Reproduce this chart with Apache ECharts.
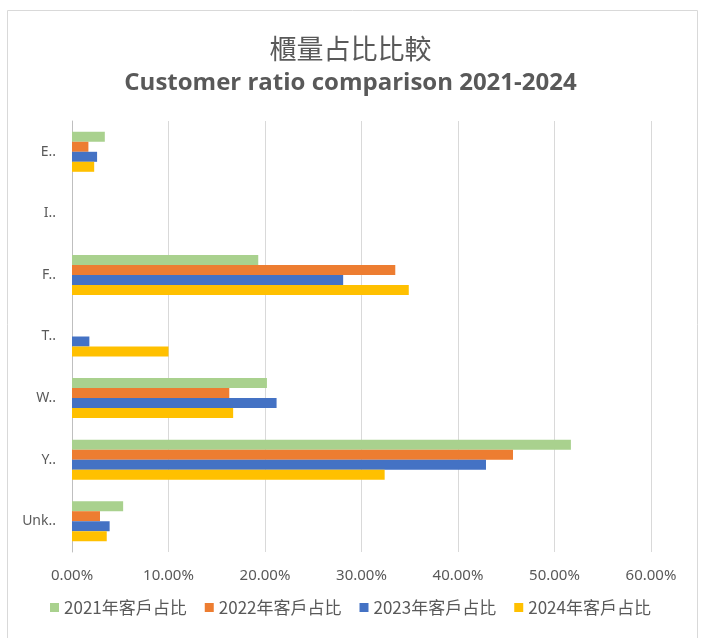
<!DOCTYPE html>
<html>
<head>
<meta charset="utf-8">
<script src="https://cdn.jsdelivr.net/npm/echarts@6/dist/echarts.min.js"></script>
<style>
	html, body { margin: 0; padding: 0; background: #fff; }
	#main { width: 701px; height: 638px; }
</style>
</head>
<body>
<div id="main"></div>
<script>
	// 類別 (上到下)
	var categories = ['E..', 'I..', 'F..', 'T..', 'W..', 'Y..', 'Unk..'];
	var seriesNames = ['2021年客戶占比', '2022年客戶占比', '2023年客戶占比', '2024年客戶占比'];
	// 各年度占比 (%)
	var ratio2021 = [3.4, 0, 19.3, 0, 20.2, 51.7, 5.3];
	var ratio2022 = [1.7, 0, 33.5, 0, 16.3, 45.7, 2.9];
	var ratio2023 = [2.6, 0, 28.1, 1.8, 21.2, 42.9, 3.9];
	var ratio2024 = [2.3, 0, 34.9, 10.0, 16.7, 32.4, 3.6];
	var xTicks = [0, 10, 20, 30, 40, 50, 60];

	var chart = echarts.init(document.getElementById('main'));
	var allData = [ratio2021, ratio2022, ratio2023, ratio2024];
	var option = {
		color: ['#A9D18E', '#ED7D31', '#4472C4', '#FFC000'],
		title: [{
				text: '櫃量占比比較',
				left: 'center',
				top: 30,
				textStyle: {
					fontFamily: 'Noto Sans CJK TC',
					fontSize: 27,
					fontWeight: 'normal',
					color: '#595959'
				}
			},
			{
				text: 'Customer ratio comparison 2021-2024',
				left: 'center',
				top: 66,
				textStyle: {
					fontFamily: 'Open Sans',
					fontSize: 24,
					fontWeight: 'bold',
					color: '#595959'
				}
			}
		],
		graphic: [{
			type: 'rect',
			shape: { x: 7.5, y: 10.5, width: 690, height: 640 },
			style: { fill: 'none', stroke: '#d9d9d9', lineWidth: 1 },
			silent: true
		}],
		legend: {
			data: seriesNames,
			bottom: 17,
			left: 'center',
			icon: 'rect',
			itemWidth: 9,
			itemHeight: 9,
			itemGap: 18,
			textStyle: {
				fontFamily: 'Noto Sans CJK TC',
				fontSize: 17,
				color: '#595959'
			}
		},
		grid: {
			left: 72,
			right: 50,
			top: 121,
			bottom: 86
		},
		xAxis: {
			type: 'value',
			min: xTicks[0],
			max: xTicks[xTicks.length - 1],
			interval: 10,
			axisLine: { show: false },
			axisTick: { show: false },
			splitLine: {
				show: true,
				lineStyle: { color: '#d9d9d9', width: 1 }
			},
			axisLabel: {
				margin: 16,
				fontFamily: 'Noto Sans',
				fontSize: 15,
				color: '#595959',
				formatter: function(value) {
					return value.toFixed(2) + '%';
				}
			}
		},
		yAxis: {
			type: 'category',
			inverse: true,
			data: categories,
			axisLine: {
				show: true,
				lineStyle: { color: '#bfbfbf', width: 1 }
			},
			axisTick: { show: false },
			axisLabel: {
				margin: 16,
				fontFamily: 'Noto Sans',
				fontSize: 14,
				color: '#595959'
			}
		},
		series: seriesNames.map(function(name, i) {
			return {
				name: name,
				type: 'bar',
				barGap: '0%',
				barCategoryGap: '35%',
				data: allData[i]
			};
		})
	};
	chart.setOption(option);
</script>
</body>
</html>
